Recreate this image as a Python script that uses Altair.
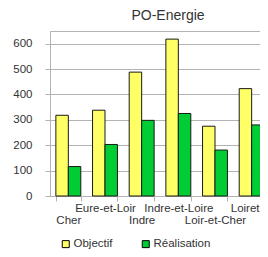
import altair as alt
import pandas as pd

regions = ["Cher", "Eure-et-Loir", "Indre", "Indre-et-Loire", "Loir-et-Cher", "Loiret"]
objectif = [318, 338, 488, 618, 275, 423]
realisation = [116, 203, 298, 325, 181, 280]
series = ["Objectif", "Réalisation"]
colors = ["#ffff66", "#00cc33"]
y_ticks = [0, 100, 200, 300, 400, 500, 600]

rows = []
for r, o, v in zip(regions, objectif, realisation):
    rows.append({"region": r, "serie": series[0], "value": o})
    rows.append({"region": r, "serie": series[1], "value": v})
df = pd.DataFrame(rows)

label_expr = ("indexof(['Cher','Indre','Loir-et-Cher'], datum.value) >= 0 "
              "? ['', datum.value] : datum.value")

chart = alt.Chart(df).mark_bar(stroke="#1a1a1a", strokeWidth=1).encode(
    x=alt.X("region:N", sort=regions, title=None,
            scale=alt.Scale(paddingInner=0.32, paddingOuter=0.16, range=[0, 220]),
            axis=alt.Axis(labelAngle=0, labelExpr=label_expr, tickBand="extent",
                          grid=False, tickSize=5, tickColor="#b3b3b3",
                          domainColor="#b3b3b3", labelFontSize=11.5,
                          labelColor="#333333", labelPadding=1,
                          labelOffset=alt.condition("datum.value === 'Loiret'",
                                                    alt.value(-7), alt.value(0)),
                          labelLineHeight=12.5, labelFont="Liberation Sans")),
    xOffset=alt.XOffset("serie:N", sort=series,
                        scale=alt.Scale(paddingInner=0, paddingOuter=0)),
    y=alt.Y("value:Q", title=None,
            scale=alt.Scale(domain=[0, 650], nice=False),
            axis=alt.Axis(values=y_ticks, tickSize=5, tickColor="#b3b3b3",
                          domainColor="#b3b3b3", gridColor="#b3b3b3",
                          labelFontSize=11.5, labelColor="#333333",
                          labelPadding=13, labelFont="Liberation Sans")),
    color=alt.Color("serie:N", sort=series,
                    scale=alt.Scale(domain=series, range=colors),
                    legend=alt.Legend(title=None, orient="none", legendX=10,
                                      legendY=207, direction="horizontal",
                                      symbolType="square", symbolSize=49,
                                      symbolStrokeColor="#000000",
                                      symbolStrokeWidth=1, symbolOpacity=1,
                                      labelFontSize=11.5, labelOffset=2,
                                      labelColor="#333333",
                                      labelFont="Liberation Sans",
                                      columnPadding=27, padding=0)),
).properties(
    width=210,
    height=165,
    title=alt.TitleParams("PO-Energie", fontSize=14, fontWeight="normal",
                          font="Liberation Sans", color="#333333",
                          anchor="middle", dx=13, dy=12, offset=9,
                          baseline="alphabetic"),
    autosize=alt.AutoSizeParams(type="none"),
    padding={"left": 42, "top": 23, "right": 0, "bottom": 53},
).configure_view(stroke="#b3b3b3")

chart.save("out.html", embed_options={"renderer": "svg", "actions": False})
